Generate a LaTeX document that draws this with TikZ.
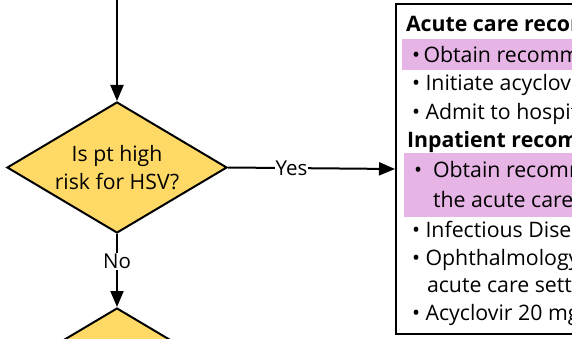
\documentclass[tikz,border=0pt]{standalone}
\usepackage{fontspec}
\setmainfont{Open Sans}
\usetikzlibrary{shapes.geometric,arrows.meta}
\definecolor{dyellow}{HTML}{FFD966}
\definecolor{bandc}{HTML}{E6B5E5}
\begin{document}
\begin{tikzpicture}[x=1pt,y=-1pt, line width=2pt,
 decision/.style={diamond, draw=black, fill=dyellow, aspect=1.68, minimum width=220pt, minimum height=131pt, inner sep=0pt, align=center, font=\fontsize{21.2}{28}\selectfont},
 arr/.style={-{Triangle[length=16pt,width=13pt]}},
 lbl/.style={fill=white, inner sep=1pt, font=\fontsize{20.5}{24}\selectfont},
 txt/.style={anchor=base west, inner sep=0pt, font=\fontsize{21.3}{28}\selectfont},
 hd/.style={anchor=base west, inner sep=0pt, font=\fontsize{21.3}{28}\selectfont\bfseries}]
\useasboundingbox (0,0) rectangle (572,339);
\node[decision] (d1) at (117,167.5) {Is pt high\\risk for HSV?};
\node[decision] (d2) at (117,373.5) {};
\coordinate (top) at (117,-5);
\node[draw=black, anchor=north west, minimum width=600pt, minimum height=330pt, inner sep=0pt] (box) at (395,3) {};
\fill[bandc] (402,39) rectangle (700,70);
\fill[bandc] (404,153) rectangle (700,217);
\draw[arr] (top) -- (d1.north);
\draw[arr] (d1.south) -- node[lbl, pos=0.38] (no) {No} (d2.north);
\draw[arr] (d1.east) -- node[lbl, pos=0.38] (yes) {Yes} (box.west);
\node[hd] (h1) at (405,32) {Acute care recommendations};
\node[txt] (a1) at (411,63) {•\,Obtain recommended};
\node[txt] (a2) at (411,91) {• Initiate acyclovir};
\node[txt] (a3) at (411,120) {• Admit to hospital};
\node[hd] (h2) at (406,148) {Inpatient recommendations};
\node[txt] (b1) at (413,178) {•};
\node[txt] (b1t) at (432,178) {Obtain recommended};
\node[txt] (b1u) at (432,207) {the acute care setting};
\node[txt] (b2) at (411,237) {• Infectious Disease};
\node[txt] (b3) at (411,265) {• Ophthalmology};
\node[txt] (b3u) at (426,292) {acute care setting};
\node[txt] (b4) at (411,320) {• Acyclovir 20 mg};
\end{tikzpicture}
\end{document}
